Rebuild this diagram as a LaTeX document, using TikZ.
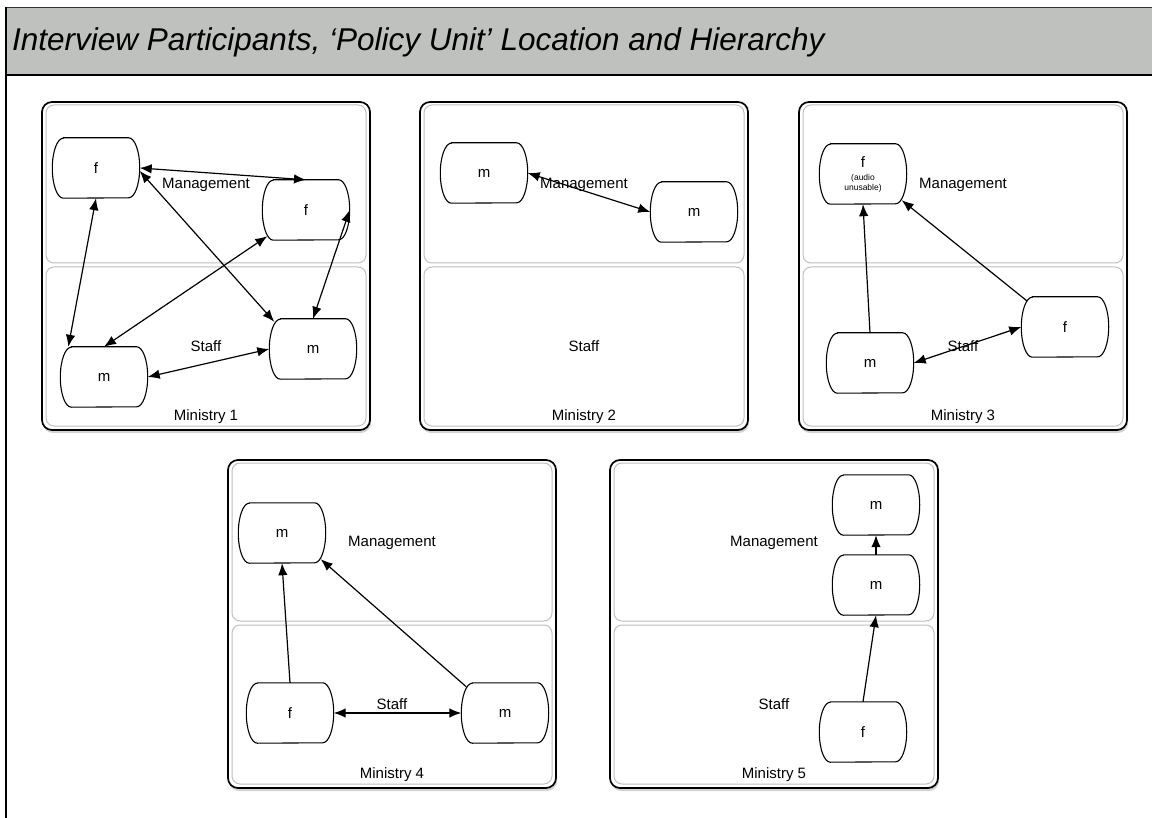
\documentclass[tikz,border=0pt]{standalone}
\usepackage{fontspec}
\setmainfont{Liberation Sans}
\usepackage{tikz}
\usetikzlibrary{arrows.meta}
\usetikzlibrary{shadows}
\usetikzlibrary{calc}

\definecolor{barGray}{RGB}{191,193,191}
\definecolor{layerGray}{RGB}{192,192,192}
\newcommand{\smallnote}{\fontsize{8.5}{9.5}\selectfont}

\begin{document}
\begin{tikzpicture}[x=1pt,y=-1pt]
\tikzstyle{person} = [minimum width=87pt, minimum height=60pt, inner sep=0pt, align=center, font=\fontsize{15}{17}\selectfont]
\tikzstyle{outline} = [draw=black, line width=1.1pt]
\tikzstyle{ministry} = [draw=black, line width=1.7pt, fill=white, rounded corners=10pt, drop shadow={shadow xshift=1pt, shadow yshift=-3pt, opacity=.35}]
\tikzstyle{layer} = [draw=layerGray, line width=1pt, rounded corners=8pt]
\tikzstyle{lbl} = [font=\fontsize{15}{17}\selectfont, inner sep=0pt]
\tikzstyle{link} = [draw, line width=1.2pt, >={Latex[length=12pt,width=9.5pt]}]
\useasboundingbox (0,0) rectangle (1152,818);

% title bar
\fill[barGray] (6,8) rectangle (1152,75);
\draw[black!80, line width=1pt] (6,8) -- (1152,8);
\draw[black, line width=2pt] (6,75) -- (1152,75);
\draw[black, line width=2pt] (6,7) -- (6,818);
\node[anchor=base west, inner sep=0pt, font=\fontsize{31.5}{36}\selectfont\itshape] (title) at (12,51)
  {Interview Participants, ‘Policy Unit’ Location and Hierarchy};

% ministry boxes with their two layers
\foreach \bx/\by/\k in {42/102/1, 420/102/2, 799/102/3, 228/460/4, 610/460/5} {
  \draw[ministry] (\bx,\by) rectangle +(328,328);
  \draw[layer] (\bx+4,\by+3) rectangle +(320,158);
  \draw[layer] (\bx+4,\by+165) rectangle +(320,159);
  \node[lbl] (mgmt\k) at (\bx+164,\by+83) {Management};
  \node[lbl] (staff\k) at (\bx+164,\by+244) {Staff};
  \node[lbl] (min\k) at (\bx+164,\by+315) {Ministry \k};
}

% participants
\node[person] (f1a) at (96,168) {f};
\node[person] (f1b) at (306,210) {f};
\node[person] (m1a) at (104,377) {m};
\node[person] (m1b) at (313,349) {m};
\node[person] (m2a) at (484,173) {m};
\node[person] (m2b) at (694,212) {m};
\node[person] (f3a) at (863,174) {f\\[-4pt]\smallnote (audio\\[-7pt]\smallnote unusable)};
\node[person] (m3) at (870,363) {m};
\node[person] (f3b) at (1065,327) {f};
\node[person] (m4a) at (282,533) {m};
\node[person] (f4) at (290,713) {f};
\node[person] (m4b) at (505,713) {m};
\node[person] (m5a) at (876,505) {m};
\node[person] (m5b) at (876,585) {m};
\node[person] (f5) at (863,732) {f};

\foreach \n in {f1a,f1b,m1a,m1b,m2a,m2b,f3a,m3,f3b,m4a,f4,m4b,m5a,m5b,f5}
  \draw[outline] ([xshift=11pt]\n.north west) -- ([xshift=-11pt]\n.north east)
    arc[start angle=90, end angle=-90, x radius=11pt, y radius=30pt]
    -- ([xshift=11pt]\n.south west)
    arc[start angle=270, end angle=90, x radius=11pt, y radius=30pt] -- cycle;

% ministry 1
\draw[link,<->] (f1a.east) -- (f1b.north);
\draw[link,<->] ([yshift=-3pt]f1a.east) -- ([xshift=5pt,yshift=-3pt]m1b.north west);
\draw[link,<->] (f1a.south) -- ([xshift=8pt]m1a.north west);
\draw[link,<->] ([xshift=5pt,yshift=4pt]f1b.south west) -- (m1a.north);
\draw[link,<->] (f1b.east) -- (m1b.north);
\draw[link,<->] (m1a.east) -- (m1b.west);
% ministry 2
\draw[link,<->] (m2a.east) -- (m2b.west);
% ministry 3
\draw[link,->] (m3.north) -- (f3a.south);
\draw[link,->] ([xshift=5.5pt,yshift=-4pt]f3b.north west) -- ([xshift=-5pt,yshift=4pt]f3a.south east);
\draw[link,<->] (m3.east) -- (f3b.west);
% ministry 4
\draw[link,->] (f4.north) -- (m4a.south);
\draw[link,->] ([xshift=5pt,yshift=-4pt]m4b.north west) -- ([xshift=-5pt,yshift=4pt]m4a.south east);
\draw[link,<->] (f4.east) -- (m4b.west);
% ministry 5
\draw[link,->] (m5b.north) -- (m5a.south);
\draw[link,->] (f5.north) -- (m5b.south);
\end{tikzpicture}
\end{document}
